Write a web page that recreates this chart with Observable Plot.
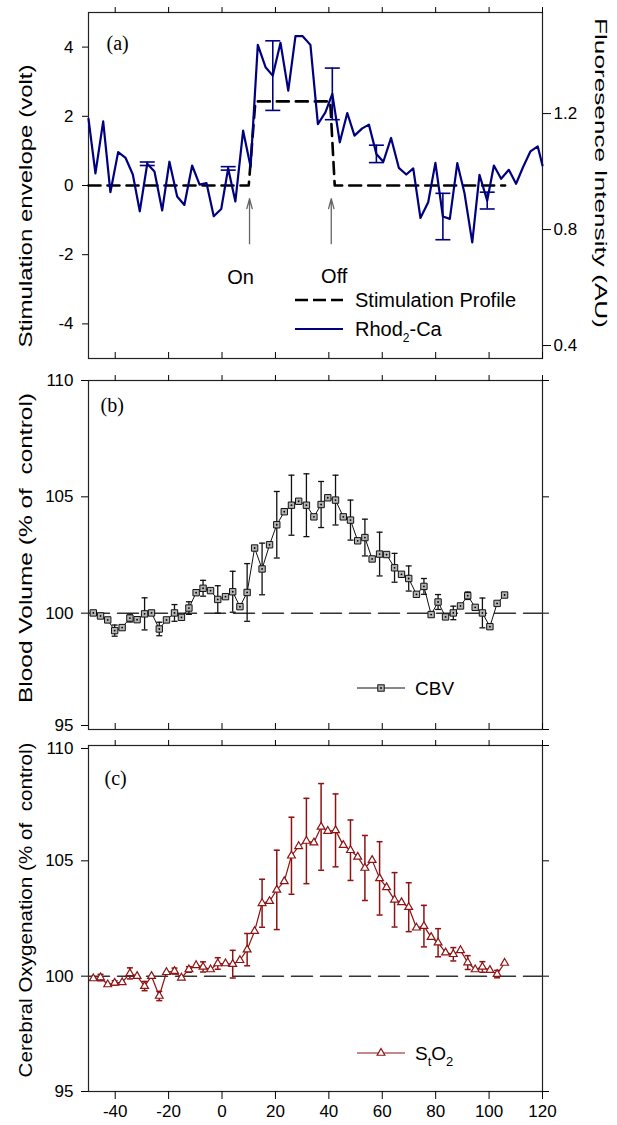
<!DOCTYPE html>
<html><head><meta charset="utf-8">
<script src="https://cdn.jsdelivr.net/npm/d3@7"></script>
<script src="https://cdn.jsdelivr.net/npm/@observablehq/plot@0.6"></script>
<style>
body{margin:0;background:#fff;}
#chart{width:617px;}
#chart svg{display:block;overflow:visible;}
</style></head><body><div id="chart"></div>
<script>
// ---------- DATA ----------
const xTicks = [-40,-20,0,20,40,60,80,100,120];
const voltTicks = [-4,-2,0,2,4];
const fluoTicks = [0.4,0.8,1.2];
const pctTicks = [95,100,105,110];

// Stimulation profile (volt)
const profileT = [-50,10,12.5,40.5,42.2,106];
const profileV = [0,0,2.43,2.43,0,0];
const events = [{t:10.3,label:"On"},{t:40.9,label:"Off"}];

// Rhod2-Ca fluorescence (AU)
const blueT = [-50,-47.4,-44.5,-41.8,-38.9,-36.1,-33.4,-30.8,-28.0,-25.3,-22.4,-19.7,-16.8,-14.1,-11.2,-8.4,-5.8,-3.1,-0.3,2.3,5.0,7.9,10.7,13.4,16.3,19.0,21.9,24.8,27.5,30.2,33.1,35.9,38.7,41.3,44.1,46.9,49.6,52.5,55.0,57.8,60.4,63.3,66.2,69.0,71.6,74.3,77.2,79.9,82.7,85.3,88.1,90.8,93.7,96.4,99.3,101.8,104.5,107.4,110.1,112.7,115.5,118.2,120];
const blueF = [1.182,0.994,1.173,0.929,1.067,1.047,0.990,0.863,1.027,1.000,0.866,1.034,0.914,0.885,1.021,0.955,0.960,0.846,0.871,1.011,0.897,1.141,1.017,1.437,1.360,1.331,1.444,1.279,1.467,1.467,1.437,1.164,1.204,1.268,1.101,1.202,1.124,1.149,1.162,1.061,1.034,1.116,1.013,0.990,1.011,0.840,0.894,1.030,0.845,0.837,1.029,0.925,0.756,0.989,0.900,1.021,0.975,1.006,0.958,1.015,1.070,1.087,1.021];
const blueErr = [0,0,0,0,0,0,0,0,0.006,0,0,0,0,0,0,0,0,0,0,0.006,0,0,0,0,0,0.12,0,0,0,0,0,0,0,0.089,0,0,0,0,0,0.03,0,0,0,0,0,0,0,0,0.08,0,0,0,0,0,0.029,0,0,0,0,0,0,0,0];

// CBV and StO2 (% of control)
const hemoT = [-48.2,-45.5,-42.8,-40.2,-37.4,-34.5,-31.8,-29.0,-26.4,-23.5,-20.8,-17.8,-15.2,-12.4,-9.7,-7.1,-4.3,-1.6,1.3,4.0,6.7,9.4,12.2,15.0,17.8,20.5,23.3,26.0,28.7,31.6,34.4,37.1,39.6,42.5,45.4,48.1,50.8,53.5,56.2,59.0,61.6,64.6,67.2,69.9,72.8,75.6,78.3,80.9,83.7,86.6,89.3,92.0,94.8,97.5,100.3,103.0,105.8];
const cbv = [100.01,99.88,99.71,99.25,99.38,99.79,99.72,99.97,100.01,99.32,99.71,100.01,99.82,100.22,100.88,101.07,100.97,100.59,100.71,100.92,100.28,100.89,102.80,101.90,102.94,103.80,104.36,104.64,104.81,104.64,104.14,104.67,104.96,104.86,104.14,104.00,103.11,103.25,102.33,102.54,102.52,101.95,101.67,101.49,100.81,101.15,99.94,100.48,99.84,100.01,100.31,100.75,100.25,100.01,99.42,100.42,100.78];
const cbvErr = [0,0,0,0.24,0,0.17,0,0.69,0,0.29,0,0.36,0,0.27,0,0.34,0,0.59,0,0.88,0,1.24,0,1.11,0,1.43,0,1.29,0,1.35,0,0.99,0,1.07,0,0.86,0,0.79,0,0.94,0,0.62,0,0.54,0,0.34,0,0.32,0,0.29,0,0.16,0,0.64,0,0,0];
const sto2 = [99.90,99.94,99.64,99.71,99.73,100.12,100.00,99.57,100.00,99.14,100.17,100.22,99.93,100.29,100.47,100.40,100.29,100.55,100.55,100.52,100.69,101.15,101.95,103.16,103.25,103.74,104.11,105.22,105.63,105.86,105.79,106.47,106.29,106.32,105.68,105.46,105.17,104.69,105.03,104.24,103.85,103.31,103.20,102.99,102.10,102.17,101.69,101.45,101.02,100.95,101.12,100.59,100.29,100.40,100.26,100.09,100.57];
const sto2Err = [0,0.14,0,0.09,0,0.24,0,0.2,0,0.2,0,0.13,0,0.12,0,0.22,0,0.25,0,0.6,0,0.7,0,1.04,0,1.72,0,1.67,0,1.85,0,1.88,0,1.58,0,1.31,0,1.41,0,1.59,0,1.18,0,1.06,0,0.9,0,0.61,0,0.29,0,0.3,0,0.23,0,0.16,0];

// ---------- SETUP ----------
const W = 617, ML = 88, MR = 75;
const FONT = "'Liberation Sans', Arial, sans-serif";
const SERIF = "'Liberation Serif', 'DejaVu Serif', serif";
const BLUE = "#00007f", RED = "#8e1212";
const R0 = 0.952, K = 8.38;           // fluorescence -> volt axis mapping
const toL = f => (f - R0) * K;
const cap = {draw(ctx, size){ const r = Math.sqrt(size/Math.PI); ctx.moveTo(-r,0); ctx.lineTo(r,0); }};
const fmt = d => String(d);
const baseStyle = {background:"transparent", overflow:"visible", fontFamily:FONT, fontSize:"17px", color:"#000"};

const profile = profileT.map((t,i)=>({t, v:profileV[i]}));
const blue = blueT.map((t,i)=>({t, f:blueF[i], e:blueErr[i]}));
const blueE = blue.filter(d=>d.e>0);
const cbvD = hemoT.map((t,i)=>({t, v:cbv[i], e:cbvErr[i]}));
const stoD = hemoT.map((t,i)=>({t, v:sto2[i], e:sto2Err[i]}));
const baseline = [{t:-50,v:100},{t:120,v:100}];

function xAxes(bottomLabels, bottomInward){
  return [
    Plot.frame({stroke:"#222", strokeWidth:1.2}),
    Plot.axisX({anchor:"top", ticks:xTicks, tickFormat:()=>"", tickSize:6, label:null}),
    bottomLabels
      ? Plot.axisX({anchor:"bottom", ticks:xTicks, tickFormat:fmt, tickSize:8, tickPadding:5, label:null})
      : Plot.axisX({anchor:"bottom", ticks:xTicks, tickFormat:()=>"", tickSize: bottomInward ? -6 : 6, label:null})
  ];
}

function vlabel(svg, text, x, y, rot, len, size){
  d3.select(svg).append("text")
    .attr("transform", `translate(${x},${y}) rotate(${rot})`)
    .attr("text-anchor","middle")
    .attr("font-family", FONT).attr("font-size", size)
    .attr("textLength", len).attr("lengthAdjust","spacingAndGlyphs")
    .style("white-space","pre")
    .attr("fill","#000").text(text);
}

// ---------- PANEL A ----------
const plotA = Plot.plot({
  width:W, height:369, marginTop:12, marginBottom:11, marginLeft:ML, marginRight:MR,
  x:{domain:[-50,120]}, y:{domain:[-5,5]}, style:baseStyle,
  marks:[
    ...xAxes(false, true),
    Plot.axisY({ticks:voltTicks, tickFormat:fmt, tickSize:6, tickPadding:9, label:null}),
    Plot.axisY({anchor:"right", ticks:fluoTicks.map(toL), tickFormat:l=>(l/K+R0).toFixed(1), tickSize:8, tickPadding:3, label:null}),
    Plot.line(profile, {x:"t", y:"v", stroke:"#000", strokeWidth:2.6, strokeDasharray:"12,7"}),
    Plot.line(blue, {x:"t", y:d=>toL(d.f), stroke:BLUE, strokeWidth:2.2}),
    Plot.ruleX(blueE, {x:"t", y1:d=>toL(d.f-d.e), y2:d=>toL(d.f+d.e), stroke:BLUE, strokeWidth:1.6}),
    Plot.dot(blueE, {x:"t", y:d=>toL(d.f-d.e), symbol:cap, r:7.5, fill:"none", stroke:BLUE, strokeWidth:1.6}),
    Plot.dot(blueE, {x:"t", y:d=>toL(d.f+d.e), symbol:cap, r:7.5, fill:"none", stroke:BLUE, strokeWidth:1.6}),
    Plot.arrow(events, {x:"t", y1:-1.68, y2:-0.38, stroke:"#666", strokeWidth:1.3, headLength:12, headAngle:30}),
    Plot.text(events.filter(d=>d.label==="On"), {x:"t", y:-2.65, text:"label", dx:-9, fontSize:20}),
    Plot.text(events.filter(d=>d.label==="Off"), {x:"t", y:-2.62, text:"label", dx:3, fontSize:20}),
    Plot.text(["(a)"], {text:d=>d, frameAnchor:"top-left", dx:18, dy:31, textAnchor:"start", lineAnchor:"middle", fontFamily:SERIF, fontSize:20})
  ]
});

// ---------- PANEL B ----------
const plotB = Plot.plot({
  width:W, height:368, marginTop:11, marginBottom:8, marginLeft:ML, marginRight:MR,
  x:{domain:[-50,120]}, y:{domain:[95,110]}, style:baseStyle,
  marks:[
    ...xAxes(false, true),
    Plot.axisY({ticks:[100,105,110], tickFormat:fmt, tickSize:7, tickPadding:8, label:null}),
    Plot.axisY({ticks:[95], tickFormat:fmt, tickSize:7, tickPadding:8, label:null, dy:-4}),
    Plot.axisY({anchor:"right", ticks:pctTicks, tickFormat:()=>"", tickSize:6, label:null}),
    Plot.line(baseline, {x:"t", y:"v", stroke:"#333", strokeWidth:1.5, strokeDasharray:"21,8"}),
    Plot.ruleX(cbvD.filter(d=>d.e>0), {x:"t", y1:d=>d.v-d.e, y2:d=>d.v+d.e, stroke:"#111", strokeWidth:1.3}),
    Plot.dot(cbvD.filter(d=>d.e>0), {x:"t", y:d=>d.v-d.e, symbol:cap, r:3, fill:"none", stroke:"#111", strokeWidth:1.3}),
    Plot.dot(cbvD.filter(d=>d.e>0), {x:"t", y:d=>d.v+d.e, symbol:cap, r:3, fill:"none", stroke:"#111", strokeWidth:1.3}),
    Plot.line(cbvD, {x:"t", y:"v", stroke:"#111", strokeWidth:1}),
    Plot.dot(cbvD, {x:"t", y:"v", symbol:"square", r:3.6, fill:"#b4b4b4", stroke:"#111", strokeWidth:1}),
    Plot.dot(cbvD, {x:"t", y:"v", r:0.9, fill:"#000"}),
    Plot.text(["(b)"], {text:d=>d, frameAnchor:"top-left", dx:12, dy:25, textAnchor:"start", lineAnchor:"middle", fontFamily:SERIF, fontSize:20})
  ]
});

// ---------- PANEL C ----------
const plotC = Plot.plot({
  width:W, height:388, marginTop:8, marginBottom:34, marginLeft:ML, marginRight:MR,
  x:{domain:[-50,120]}, y:{domain:[95,110]}, style:baseStyle,
  marks:[
    ...xAxes(true, false),
    Plot.axisY({ticks:[95,100,105], tickFormat:fmt, tickSize:7, tickPadding:8, label:null}),
    Plot.axisY({ticks:[110], tickFormat:fmt, tickSize:7, tickPadding:8, label:null, dy:3}),
    Plot.axisY({anchor:"right", ticks:pctTicks, tickFormat:()=>"", tickSize:6, label:null}),
    Plot.line(baseline, {x:"t", y:"v", stroke:"#333", strokeWidth:1.5, strokeDasharray:"21,8"}),
    Plot.ruleX(stoD.filter(d=>d.e>0), {x:"t", y1:d=>d.v-d.e, y2:d=>d.v+d.e, stroke:RED, strokeWidth:1.5}),
    Plot.dot(stoD.filter(d=>d.e>0), {x:"t", y:d=>d.v-d.e, symbol:cap, r:3, fill:"none", stroke:RED, strokeWidth:1.5}),
    Plot.dot(stoD.filter(d=>d.e>0), {x:"t", y:d=>d.v+d.e, symbol:cap, r:3, fill:"none", stroke:RED, strokeWidth:1.5}),
    Plot.line(stoD, {x:"t", y:"v", stroke:RED, strokeWidth:1.2}),
    Plot.dot(stoD, {x:"t", y:"v", symbol:"triangle", r:2.9, fill:"#fff", stroke:RED, strokeWidth:1.2}),
    Plot.text(["(c)"], {text:d=>d, frameAnchor:"top-left", dx:16, dy:33, textAnchor:"start", lineAnchor:"middle", fontFamily:SERIF, fontSize:20})
  ]
});

const root = document.getElementById("chart");
root.append(plotA, plotB, plotC);

// ---------- AXIS TITLES ----------
vlabel(plotA, "Stimulation envelope (volt)", 32, 206, -90, 283, 19);
vlabel(plotA, "Fluoresence Intensity (AU)", 595, 173, 90, 310, 17);
vlabel(plotB, "Blood Volume (% of  control)", 32, 179, -90, 310, 18);
vlabel(plotC, "Cerebral Oxygenation (% of  control)", 32, 173, -90, 335, 18);

// ---------- LEGENDS ----------
{
  const g = d3.select(plotA).append("g").attr("font-family", FONT).attr("font-size", 20).attr("text-anchor","start");
  g.append("line").attr("x1",295).attr("x2",343).attr("y1",300).attr("y2",300)
    .attr("stroke","#000").attr("stroke-width",2.6).attr("stroke-dasharray","13,5");
  g.append("text").attr("x",355).attr("y",300).attr("dy","0.35em").text("Stimulation Profile");
  g.append("line").attr("x1",295).attr("x2",343).attr("y1",329).attr("y2",329)
    .attr("stroke",BLUE).attr("stroke-width",2.2);
  const t = g.append("text").attr("x",355).attr("y",329).attr("dy","0.35em");
  t.append("tspan").text("Rhod");
  t.append("tspan").attr("font-size",12).attr("dy",6).text("2");
  t.append("tspan").attr("dy",-6).text("-Ca");
}
{
  const g = d3.select(plotB).append("g").attr("font-family", FONT).attr("font-size", 19).attr("text-anchor","start");
  g.append("line").attr("x1",357).attr("x2",405).attr("y1",319).attr("y2",319).attr("stroke","#111").attr("stroke-width",1);
  g.append("rect").attr("x",377.8).attr("y",315.8).attr("width",6.4).attr("height",6.4).attr("fill","#b4b4b4").attr("stroke","#111");
  g.append("circle").attr("cx",381).attr("cy",319).attr("r",0.9).attr("fill","#000");
  g.append("text").attr("x",415).attr("y",319).attr("dy","0.35em").text("CBV");
}
{
  const g = d3.select(plotC).append("g").attr("font-family", FONT).attr("font-size", 19).attr("text-anchor","start");
  g.append("line").attr("x1",357).attr("x2",405).attr("y1",316).attr("y2",316).attr("stroke",RED).attr("stroke-width",1.2);
  g.append("path").attr("d", d3.symbol(d3.symbolTriangle, 26)()).attr("transform","translate(381,316)")
    .attr("fill","#fff").attr("stroke",RED).attr("stroke-width",1.2);
  const t = g.append("text").attr("x",415).attr("y",316).attr("dy","0.35em");
  t.append("tspan").text("S");
  t.append("tspan").attr("font-size",13).attr("dy",6).text("t");
  t.append("tspan").attr("dy",-6).text("O");
  t.append("tspan").attr("font-size",13).attr("dy",6).text("2");
}
</script></body></html>
